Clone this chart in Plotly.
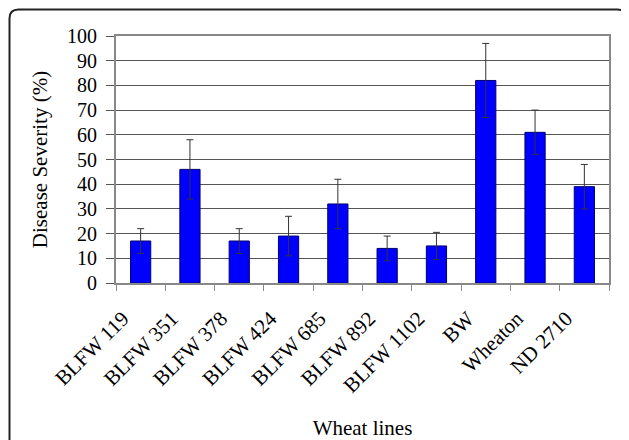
import plotly.graph_objects as go

categories = ["BLFW 119", "BLFW 351", "BLFW 378", "BLFW 424", "BLFW 685",
              "BLFW 892", "BLFW 1102", "BW", "Wheaton", "ND 2710"]
severity = [17, 46, 17, 19, 32, 14, 15, 82, 61, 39]
errors = [5, 12, 5, 8, 10, 5, 5.5, 15, 9, 9]
y_ticks = [0, 10, 20, 30, 40, 50, 60, 70, 80, 90, 100]

# page body has an 8px margin, so the figure is placed at (8, 8)
OFF = 8
W, H = 629 - OFF, 440 - OFF
L, R, T, B = 116 - OFF, 20, 36 - OFF, 157
pw, ph = W - L - R, H - T - B

def px(x):
    return (x - OFF - L) / pw

def py(y):
    return (H - B - (y - OFF)) / ph

font = "Liberation Serif, Times New Roman, serif"

fig = go.Figure()
fig.add_trace(go.Bar(
    x=categories, y=severity,
    marker=dict(color="#0000FF", line=dict(color="#000070", width=1)),
    error_y=dict(type="data", array=errors, visible=True,
                 color="#333333", thickness=1, width=3.5),
))

# rounded frame
x0, y0, x1, y1 = px(9.5), py(9.5), px(626.5), py(470)
rx, ry = 9 / pw, 9 / ph
path = (f"M {x0},{y1} L {x0},{y0 - ry} Q {x0},{y0} {x0 + rx},{y0} "
        f"L {x1 - rx},{y0} Q {x1},{y0} {x1},{y0 - ry} L {x1},{y1}")
fig.add_shape(type="path", path=path, xref="paper", yref="paper",
              line=dict(color="#222222", width=2), layer="above")

fig.update_layout(
    width=W, height=H,
    margin=dict(l=L, r=R, t=T, b=B, autoexpand=False),
    paper_bgcolor="white", plot_bgcolor="white",
    bargap=0.59, showlegend=False,
    font=dict(family=font, size=20, color="black"),
    xaxis=dict(
        automargin=False,
        tickangle=-45, tickson="boundaries", ticks="outside", ticklen=6,
        tickcolor="#888888", showline=True, linecolor="#888888", linewidth=2,
        mirror=True, showgrid=False,
        title=dict(text="Wheat lines", font=dict(size=21, family=font), standoff=31),
        tickfont=dict(size=21, family=font),
        ticklabelshift=-18, ticklabelstandoff=13,
    ),
    yaxis=dict(
        automargin=False,
        range=[0, 100], tickvals=y_ticks, ticks="outside", ticklen=8,
        tickcolor="#555555", showline=True, linecolor="#888888", linewidth=2,
        mirror=True, showgrid=True, gridcolor="#555555", gridwidth=1,
        zeroline=False,
        title=dict(text="Disease Severity (%)", font=dict(size=21, family=font), standoff=14),
        tickfont=dict(size=20, family=font),
        ticklabelstandoff=5,
    ),
)

fig.write_html("out.html")
